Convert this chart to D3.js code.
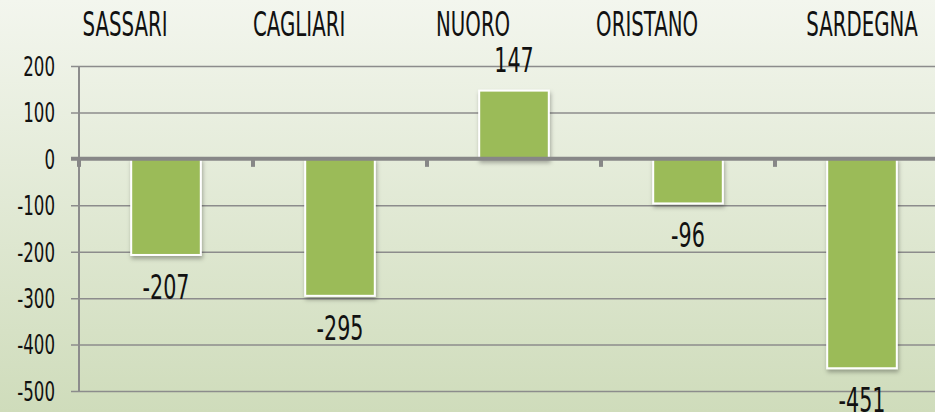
<!DOCTYPE html>
<html>
<head>
<meta charset="utf-8">
<script src="https://cdn.jsdelivr.net/npm/d3@7"></script>
<style>
  html, body { margin: 0; padding: 0; }
  body { width: 935px; height: 412px; overflow: hidden; }
  text { font-family: "DejaVu Sans Condensed", "Liberation Sans Narrow", sans-serif; fill: #111; }
</style>
</head>
<body>
<div id="chart"></div>
<script>
// data
const categories = ['SASSARI', 'CAGLIARI', 'NUORO', 'ORISTANO', 'SARDEGNA'];
const values = [-207, -295, 147, -96, -451];
const yTicks = [200, 100, 0, -100, -200, -300, -400, -500];

const W = 935, H = 412;
const margin = { top: 66, right: -14, bottom: 21, left: 79 };

const svg = d3.select('#chart').append('svg')
  .attr('width', W)
  .attr('height', H);

const defs = svg.append('defs');
const grad = defs.append('linearGradient')
  .attr('id', 'bg')
  .attr('x1', 0).attr('y1', 0).attr('x2', 0).attr('y2', 1);
grad.append('stop').attr('offset', '0%').attr('stop-color', '#f3f6ee');
grad.append('stop').attr('offset', '100%').attr('stop-color', '#cfdcbb');

const shadow = defs.append('filter').attr('id', 'shadow')
  .attr('x', '-20%').attr('y', '-20%').attr('width', '140%').attr('height', '140%');
shadow.append('feDropShadow')
  .attr('dx', 1).attr('dy', 3).attr('stdDeviation', 2)
  .attr('flood-color', '#000').attr('flood-opacity', 0.3);

svg.append('rect')
  .attr('width', W).attr('height', H)
  .attr('fill', 'url(#bg)');

// scales
const x = d3.scaleBand()
  .domain(categories)
  .range([margin.left, W - margin.right])
  .paddingInner(0.6)
  .paddingOuter(0.3);

const xOuter = d3.scaleBand()
  .domain(categories)
  .range([margin.left, W - margin.right]);

const y = d3.scaleLinear()
  .domain([-500, 200])
  .range([H - margin.bottom, margin.top]);

// gridlines + y labels
const yaxis = d3.axisLeft(y)
  .tickValues(yTicks)
  .tickSize(0)
  .tickFormat(d => String(d));

const gy = svg.append('g')
  .attr('transform', `translate(${margin.left - 8},0)`)
  .call(yaxis);

gy.select('.domain').remove();
gy.selectAll('.tick line')
  .attr('stroke', '#8c8c8c')
  .attr('stroke-width', 1.5)
  .attr('x1', 0)
  .attr('x2', W - margin.left + 8);
gy.selectAll('.tick text')
  .attr('font-size', 18.5)
  .attr('dy', null)
  .attr('x', null)
  .attr('text-anchor', 'end')
  .attr('transform', 'translate(-16,0) scale(1,1.45)')
  .attr('dominant-baseline', 'central')
  .attr('fill', '#111');

// vertical axis line
svg.append('line')
  .attr('x1', margin.left).attr('x2', margin.left)
  .attr('y1', y(200)).attr('y2', y(-500))
  .attr('stroke', '#8c8c8c')
  .attr('stroke-width', 2);

// bars
svg.append('g')
  .selectAll('rect')
  .data(values)
  .join('rect')
  .attr('x', (d, i) => x(categories[i]))
  .attr('y', d => y(Math.max(0, d)))
  .attr('width', x.bandwidth())
  .attr('height', d => Math.abs(y(d) - y(0)))
  .attr('fill', '#9bbb59')
  .attr('stroke', '#fff')
  .attr('stroke-width', 2)
  .attr('filter', 'url(#shadow)');

// zero axis with ticks
const zero = svg.append('g');
zero.append('line')
  .attr('x1', margin.left - 8).attr('x2', W)
  .attr('y1', y(0)).attr('y2', y(0))
  .attr('stroke', '#878787')
  .attr('stroke-width', 4);
zero.selectAll('.zt')
  .data(categories)
  .join('line')
  .attr('class', 'zt')
  .attr('x1', d => xOuter(d)).attr('x2', d => xOuter(d))
  .attr('y1', y(0)).attr('y2', y(0) + 8)
  .attr('stroke', '#878787')
  .attr('stroke-width', 4);

// value labels
svg.append('g')
  .selectAll('text')
  .data(values)
  .join('text')
  .attr('text-anchor', 'middle')
  .attr('dominant-baseline', 'central')
  .attr('font-size', 23)
  .attr('transform', (d, i) => {
    const cx = x(categories[i]) + x.bandwidth() / 2;
    const cy = d < 0 ? y(d) + 32 : y(d) - 30;
    return `translate(${cx},${cy}) scale(1,1.5)`;
  })
  .text(d => d);

// category labels on top
svg.append('g')
  .selectAll('text')
  .data(categories)
  .join('text')
  .attr('text-anchor', 'middle')
  .attr('dominant-baseline', 'central')
  .attr('font-size', 22)
  .attr('transform', (d, i) => {
    const bw = xOuter.bandwidth();
    const cx = i < categories.length - 1 ? xOuter(d) + bw * 0.265 : xOuter(d) + bw / 2;
    return `translate(${cx},25) scale(1,1.5)`;
  })
  .text(d => d);
</script>
</body>
</html>
